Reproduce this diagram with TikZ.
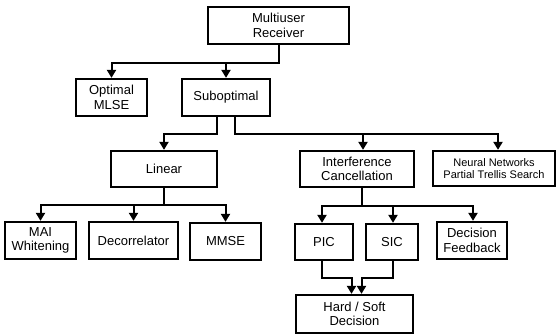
\documentclass[tikz,border=0pt]{standalone}
\usepackage{fontspec}
\setmainfont{Liberation Sans}
\usepackage{tikz}
\usetikzlibrary{calc,positioning,arrows.meta}

\tikzset{
    block/.style={draw, line width=2.3pt, align=center, inner sep=0pt, minimum height=37pt,
        font=\fontsize{13}{14.5}\selectfont},
    link/.style={line width=2pt, -{Triangle[length=8pt,width=9pt]}},
}

\begin{document}
\begin{tikzpicture}[x=1pt, y=-1pt]
    \useasboundingbox (0,0) rectangle (557,335);

    \node [block, minimum width=141pt] (receiver) at (278.5,25.5) {Multiuser\\Receiver};
    \node [block, minimum width=71pt] (optimal) at (111.5,97.5) {Optimal\\MLSE};
    \node [block, minimum width=88pt] (suboptimal) at (226,97.5) {Suboptimal};

    \node [block, minimum width=106pt, minimum height=36pt] (linear) at (164,169) {Linear};
    \node [block, minimum width=114pt, minimum height=36pt] (ic) at (357,169) {Interference\\Cancellation};
    \node [block, minimum width=122pt, minimum height=35pt, font=\fontsize{11}{12.5}\selectfont] (neural) at (494,168.5) {Neural Networks\\Partial Trellis Search};

    \node [block, minimum width=71pt] (mai) at (40.5,240.5) {MAI\\Whitening};
    \node [block, minimum width=89pt] (decor) at (133.5,240.5) {Decorrelator};
    \node [block, minimum width=71pt] (mmse) at (225.5,241.5) {MMSE};

    \node [block, minimum width=58pt, minimum height=36pt] (pic) at (324,242) {PIC};
    \node [block, minimum width=52pt, minimum height=36pt] (sic) at (392,242) {SIC};
    \node [block, minimum width=70pt] (feedback) at (472,240.5) {Decision\\Feedback};

    \node [block, minimum width=117pt, minimum height=38pt] (decision) at (354.5,314) {Hard / Soft\\Decision};

    % top level
    \draw[link] (receiver.south) -- ++(0,18) -| (optimal.north);
    \draw[link] (receiver.south) -- ++(0,18) -| (suboptimal.north);

    % suboptimal branches
    \draw[link] ([xshift=-9pt]suboptimal.south) -- ++(0,17) -| (linear.north);
    \draw[link] ([xshift=9pt]suboptimal.south) -- ++(0,17) -| ([xshift=6pt]ic.north);
    \draw[link] ([xshift=9pt]suboptimal.south) -- ++(0,17) -| ([xshift=4pt]neural.north);

    % linear detectors
    \draw[link] (linear.south) -- ++(0,17) -| (mai.north);
    \draw[link] (linear.south) -- ++(0,17) -| (decor.north);
    \draw[link] (linear.south) -- ++(0,17) -| (mmse.north);

    % interference cancellation
    \draw[link] ([xshift=5pt]ic.south) -- ++(0,18) -| ([xshift=-2pt]pic.north);
    \draw[link] ([xshift=5pt]ic.south) -- ++(0,18) -| ([xshift=1pt]sic.north);
    \draw[link] ([xshift=5pt]ic.south) -- ++(0,18) -| ([xshift=1pt]feedback.north);

    % to hard / soft decision
    \draw[link] ([xshift=-2pt]pic.south) -- ++(0,17) -| ([xshift=-3pt]decision.north);
    \draw[link] ([xshift=1pt]sic.south) -- ++(0,17) -| ([xshift=7pt]decision.north);

\end{tikzpicture}
\end{document}
